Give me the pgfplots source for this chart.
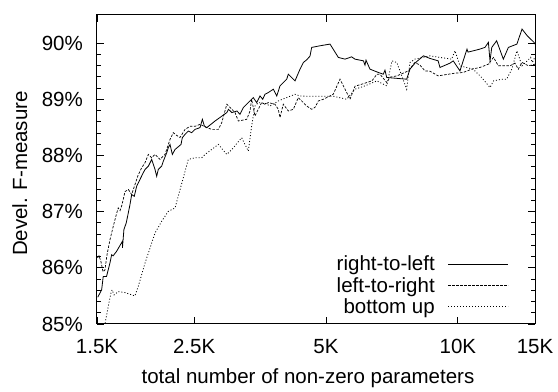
\documentclass[border=0pt]{standalone}
\usepackage{fontspec}
\setmainfont{Liberation Sans}
\usepackage{pgfplots}
\pgfplotsset{compat=1.18}
\begin{document}
\begin{tikzpicture}[font=\fontsize{20.5bp}{24bp}\selectfont]
\begin{axis}[
  scale only axis, width=438bp, height=309bp,
  xmode=log, xmin=1.5, xmax=15, ymin=85, ymax=90.5,
  xtick={1.5,2.5,5,10,15}, xticklabels={1.5K,2.5K,5K,10K,15K},
  minor xtick={},
  ytick={85,86,87,88,89,90}, yticklabels={85\%,86\%,87\%,88\%,89\%,90\%},
  minor y tick num=4,
  tick align=inside, tick pos=both,
  major tick length=7bp, minor tick length=4bp,
  every tick/.style={black, line width=0.8bp},
  axis line style={line width=1bp},
  xticklabel style={anchor=base, yshift=-30bp, inner sep=0pt},
  yticklabel style={anchor=east, xshift=-14bp, inner sep=0pt},
  xlabel={total number of non-zero parameters},
  ylabel={Devel. F-measure},
  xlabel style={at={(rel axis cs:0.5,0)}, anchor=base, yshift=-60bp, xshift=-8bp},
  ylabel style={at={(rel axis cs:-0.176,0.487)}, anchor=center},
  legend cell align=right,
  legend plot pos=right,
  legend image code/.code={\draw[#1] (0bp,0bp) -- (60bp,0bp);},
  legend style={draw=none, fill=none, at={(0.94,0.025)}, anchor=south east,
    inner sep=0bp, row sep=3bp, column sep=12bp, nodes={inner sep=1bp}},
]
\addplot[black, line width=0.8bp] coordinates {
(1.506,85.477)(1.537,85.607)(1.550,85.845)(1.577,85.845)(1.606,86.089)(1.620,86.232)
(1.633,86.214)(1.662,86.291)(1.714,86.470)(1.715,86.357)(1.728,86.679)(1.750,86.804)
(1.784,87.125)(1.800,87.304)(1.825,87.273)(1.848,87.452)(1.880,87.571)(1.913,87.691)
(1.931,87.75)(1.965,87.809)(2.000,87.929)(2.035,87.75)(2.053,87.630)(2.070,87.75)
(2.107,87.809)(2.126,87.898)(2.164,88.048)(2.182,88.138)(2.202,88.196)(2.229,88.018)
(2.261,88.107)(2.300,88.155)(2.333,88.196)(2.349,88.316)(2.383,88.375)(2.424,88.434)
(2.468,88.405)(2.511,88.464)(2.578,88.495)(2.610,88.643)(2.638,88.523)(2.671,88.495)
(2.790,88.613)(2.968,88.763)(2.994,88.821)(3.048,88.763)(3.131,88.791)(3.181,88.732)
(3.237,88.852)(3.411,89.030)(3.472,88.941)(3.534,89.059)(3.585,89.0)(3.628,89.089)
(3.692,89.120)(3.791,89.179)(3.860,89.059)(3.926,89.238)(4.066,89.357)(4.101,89.446)
(4.248,89.327)(4.361,89.536)(4.438,89.655)(4.517,89.702)(4.596,89.768)(4.637,89.923)
(4.844,89.952)(5.106,89.982)(5.334,89.745)(5.525,89.714)(5.720,89.755)(5.823,89.714)
(6.087,89.684)(6.137,89.607)(6.17,89.696)(6.300,89.536)(6.584,89.477)(6.757,89.446)
(6.817,89.518)(6.880,89.388)(7.642,89.357)(7.774,89.536)(7.981,89.643)(8.342,89.773)
(8.636,89.727)(9.014,89.684)(9.102,89.566)(9.594,89.643)(9.758,89.684)(10.11,89.505)
(10.49,89.893)(10.55,89.839)(11.23,89.893)(11.53,89.923)(11.74,90.013)(11.84,89.684)
(11.95,89.923)(12.26,90.041)(12.70,89.714)(13.04,89.923)(13.64,89.982)(14.01,90.25)
(14.40,90.130)(14.92,90.013)(15.0,89.982)
};
\addlegendentry{right-to-left}
\addplot[black, line width=0.7bp, dash pattern=on 2.5bp off 1.5bp] coordinates {
(1.504,86.179)(1.516,86.214)(1.532,86.107)(1.548,85.929)(1.564,85.964)(1.581,86.232)
(1.606,86.5)(1.631,86.714)(1.658,86.929)(1.677,87.066)(1.693,87.018)(1.711,87.125)
(1.738,87.357)(1.769,87.393)(1.800,87.304)(1.822,87.429)(1.861,87.643)(1.897,87.780)
(1.931,87.870)(1.965,88.018)(2.000,87.959)(2.035,88.018)(2.089,87.929)(2.145,88.018)
(2.202,88.286)(2.240,88.405)(2.280,88.357)(2.321,88.321)(2.383,88.464)(2.446,88.518)
(2.511,88.518)(2.578,88.554)(2.671,88.495)(2.742,88.464)(2.839,88.464)(2.890,88.584)
(2.968,88.911)(3.048,88.821)(3.099,88.763)(3.154,88.613)(3.296,88.643)(3.353,88.791)
(3.382,89.0)(3.442,88.702)(3.472,88.763)(3.565,88.941)(3.628,88.911)(3.692,88.941)
(3.824,88.911)(3.891,88.821)(3.926,88.673)(3.994,88.911)(4.101,88.791)(4.210,88.821)
(4.322,89.030)(4.438,88.941)(4.517,88.880)(4.637,88.821)(4.719,88.857)(4.803,88.970)
(4.930,89.0)(5.193,89.089)(5.381,89.357)(5.525,89.179)(5.672,89.0)(5.823,89.232)
(6.032,89.268)(6.365,89.327)(6.534,89.446)(6.640,89.446)(6.880,89.298)(6.999,89.393)
(7.255,89.416)(7.707,89.505)(7.981,89.655)(8.194,89.607)(8.412,89.505)(8.636,89.5)
(9.014,89.416)(9.513,89.446)(9.849,89.464)(10.28,89.477)(10.75,89.536)(11.23,89.566)
(11.74,89.625)(12.06,89.745)(12.37,89.595)(12.70,89.595)(13.15,89.595)(13.50,89.643)
(13.74,89.536)(14.01,89.655)(14.50,89.595)(15.0,89.625)
};
\addlegendentry{left-to-right}
\addplot[black, line width=0.8bp, dash pattern=on 1bp off 2bp] coordinates {
(1.548,84.804)(1.591,85.309)(1.614,85.548)(1.624,85.607)(1.641,85.518)(1.677,85.577)
(1.738,85.559)(1.831,85.5)(1.863,85.666)(1.931,86.084)(2.035,86.620)(2.107,86.827)
(2.182,87.005)(2.261,87.066)(2.424,87.929)(2.511,87.959)(2.601,87.959)(2.647,88.018)
(2.839,88.196)(2.968,88.018)(3.048,88.107)(3.209,88.316)(3.323,88.077)(3.382,88.523)
(3.442,88.880)(3.504,88.941)(3.628,88.929)(3.725,88.880)(3.891,88.970)(4.066,89.030)
(4.248,89.089)(4.361,89.059)(4.517,89.054)(4.844,89.054)(5.193,89.054)(5.573,89.0)
(5.823,89.179)(6.137,89.238)(6.534,89.327)(6.880,89.238)(7.073,89.684)(7.255,89.655)
(7.642,89.179)(7.774,89.655)(7.981,89.714)(8.636,89.773)(9.102,89.745)(9.678,89.714)
(9.849,89.863)(10.11,89.595)(10.83,89.536)(11.33,89.388)(11.84,89.209)(12.06,89.327)
(12.59,89.357)(12.92,89.357)(13.28,89.536)(13.64,89.863)(14.01,89.595)(14.40,89.684)
(14.66,89.745)(14.79,89.655)(15.0,89.75)
};
\addlegendentry{bottom up}
\end{axis}
\path (current axis.south west) ++(-97bp,-66bp) rectangle ++(558bp,390bp);
\end{tikzpicture}
\end{document}
